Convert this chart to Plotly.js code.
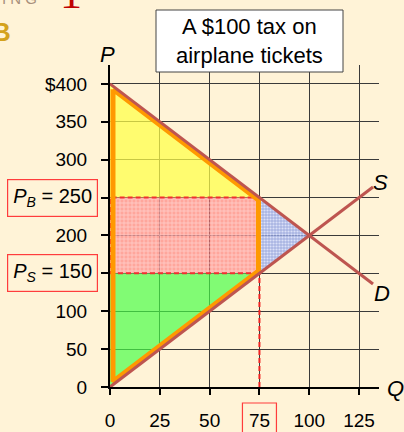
<!DOCTYPE html>
<html>
<head>
<meta charset="utf-8">
<script src="https://cdn.plot.ly/plotly-3.0.1.min.js"></script>
<style>html,body{margin:0;padding:0;background:#FFF3D7;}#chart{width:404px;height:432px;}</style>
</head>
<body>
<div id="chart"></div>
<script>
// ---- data ----
const qTicks = [0, 25, 50, 75, 100, 125];
const qTickText = ['0', '25', '50', '75', '100', '125'];
const pTicks = [0, 50, 100, 150, 200, 250, 300, 350, 400];
const pTickText = ['0', '50', '100', '', '200', '', '300', '350', '$400'];

const demandQ = [0, 132];
const demandP = [400, 136];
const supplyQ = [0, 132];
const supplyP = [0, 264];

const qTax = 75;      // quantity with tax
const pBuyers = 250;  // price buyers pay
const pSellers = 150; // price sellers receive
const qEq = 100;      // equilibrium quantity
const pEq = 200;      // equilibrium price
const pMax = 400;     // demand intercept

const csQ = [0, qTax, 0];            const csP = [pMax, pBuyers, pBuyers];
const psQ = [0, qTax, 0];            const psP = [0, pSellers, pSellers];
const trQ = [0, qTax, qTax, 0, 0];   const trP = [pSellers, pSellers, pBuyers, pBuyers, pSellers];
const dwlQ = [qTax, qEq, qTax];      const dwlP = [pBuyers, pEq, pSellers];

const titleText = 'A $100 tax on<br>airplane tickets';

// ---- layout geometry ----
const W = 404, H = 432;
const mL = 110, mR = 25, mT = 65, mB = 45;
const xMax = 135, yMax = 425;
const pw = W - mL - mR, ph = H - mT - mB;
const pxPerQ = pw / xMax, pxPerP = ph / yMax;
const px2q = px => px / pxPerQ;
const px2p = px => px / pxPerP;
const paperX = px => (px - mL) / pw;
const paperY = py => (H - mB - py) / ph;

// orange outline slightly inside the surplus+revenue region
const offL = px2q(3), offR = px2q(1);
const theta = Math.atan(2 * pxPerP / pxPerQ);
const offD = px2p(2.5 / Math.cos(theta));
const dP = q => pMax - 2 * q;
const sP = q => 2 * q;
const orQ = [offL, qTax - offR, qTax - offR, offL, offL];
const orP = [dP(offL) - offD, dP(qTax - offR) - offD, sP(qTax - offR) + offD, sP(offL) + offD, dP(offL) - offD];

const lineRed = '#BE5550';
const boxRed = '#FF3C3C';
const font = 'Liberation Sans, Arial, sans-serif';

const traces = [
  {x: csQ, y: csP, fill: 'toself', fillcolor: 'rgba(255,255,70,0.72)', line: {width: 0}, mode: 'lines', hoverinfo: 'skip'},
  {x: psQ, y: psP, fill: 'toself', fillcolor: 'rgba(70,255,70,0.68)', line: {width: 0}, mode: 'lines', hoverinfo: 'skip'},
  {x: trQ, y: trP, fill: 'toself', fillcolor: 'rgba(255,110,110,0.6)', mode: 'lines', hoverinfo: 'skip',
   fillpattern: {shape: '+', bgcolor: 'rgba(255,120,120,0.62)', fgcolor: 'rgba(255,215,215,0.8)', size: 4, solidity: 0.35, fillmode: 'replace'},
   line: {color: '#F03030', width: 2, dash: '5px,3px'}},
  {x: dwlQ, y: dwlP, fill: 'toself', fillcolor: 'rgba(140,160,230,0.7)', line: {width: 0}, mode: 'lines', hoverinfo: 'skip',
   fillpattern: {shape: '.', bgcolor: 'rgba(140,160,230,0.75)', fgcolor: 'rgba(225,230,250,0.9)', size: 3, solidity: 0.4, fillmode: 'replace'}},
  {x: [qTax, qTax], y: [0, pSellers], mode: 'lines', line: {color: '#F02020', width: 2, dash: '5px,3px'}, hoverinfo: 'skip'},
  {x: orQ, y: orP, mode: 'lines', line: {color: '#FF9900', width: 5}, hoverinfo: 'skip'},
  {x: demandQ, y: demandP, mode: 'lines', line: {color: lineRed, width: 3}, hoverinfo: 'skip'},
  {x: supplyQ, y: supplyP, mode: 'lines', line: {color: lineRed, width: 3}, hoverinfo: 'skip'}
];

const layout = {
  width: W, height: H,
  margin: {l: mL, r: mR, t: mT, b: mB, pad: 0},
  paper_bgcolor: '#FFF3D7', plot_bgcolor: '#FFF3D7',
  showlegend: false,
  font: {family: font, size: 19, color: '#000'},
  xaxis: {
    range: [0, xMax], tickvals: qTicks, ticktext: qTickText,
    showgrid: true, gridcolor: '#3A3A3A', gridwidth: 1,
    zeroline: false, showline: true, linecolor: '#000', linewidth: 2,
    ticks: 'outside', ticklen: 6, tickwidth: 2, tickcolor: '#000',
    ticklabelstandoff: 9, fixedrange: true
  },
  yaxis: {
    range: [0, yMax], tickvals: pTicks, ticktext: pTickText,
    showgrid: true, gridcolor: '#3A3A3A', gridwidth: 1,
    zeroline: false, showline: true, linecolor: '#000', linewidth: 2,
    ticks: 'outside', ticklen: 7, tickwidth: 2, tickcolor: '#000',
    ticklabelstandoff: 10, fixedrange: true
  },
  shapes: [
    {type: 'rect', xref: 'paper', yref: 'paper', x0: paperX(156), x1: paperX(343), y0: paperY(72), y1: paperY(10),
     fillcolor: '#FFFFFF', line: {color: '#444', width: 1}, layer: 'above'},
    {type: 'rect', xref: 'x', yref: 'paper', x0: qTax - px2q(17), x1: qTax + px2q(17), y0: paperY(440), y1: paperY(403),
     fillcolor: 'rgba(0,0,0,0)', line: {color: boxRed, width: 1.2}, layer: 'above'}
  ],
  annotations: [
    {xref: 'paper', yref: 'paper', x: paperX(249.5), y: paperY(41), text: titleText, showarrow: false,
     font: {size: 22, color: '#000'}, xanchor: 'center', yanchor: 'middle', align: 'center'},
    {xref: 'paper', yref: 'y', x: paperX(98), y: pBuyers, xanchor: 'right', yanchor: 'middle', showarrow: false,
     text: '<i>P</i><sub><i>B</i></sub> = 250', bordercolor: boxRed, borderwidth: 1.2, borderpad: 5,
     font: {size: 20, color: '#000'}},
    {xref: 'paper', yref: 'y', x: paperX(98), y: pSellers, xanchor: 'right', yanchor: 'middle', showarrow: false,
     text: '<i>P</i><sub><i>S</i></sub> = 150', bordercolor: boxRed, borderwidth: 1.2, borderpad: 5,
     font: {size: 20, color: '#000'}},
    {xref: 'paper', yref: 'paper', x: paperX(107), y: paperY(54), text: '<i>P</i>', showarrow: false,
     font: {size: 22}, xanchor: 'center', yanchor: 'middle'},
    {xref: 'paper', yref: 'paper', x: paperX(395), y: paperY(388), text: '<i>Q</i>', showarrow: false,
     font: {size: 22}, xanchor: 'center', yanchor: 'middle'},
    {xref: 'paper', yref: 'paper', x: paperX(380), y: paperY(182), text: '<i>S</i>', showarrow: false,
     font: {size: 22}, xanchor: 'center', yanchor: 'middle'},
    {xref: 'paper', yref: 'paper', x: paperX(382), y: paperY(293), text: '<i>D</i>', showarrow: false,
     font: {size: 22}, xanchor: 'center', yanchor: 'middle'},
    {xref: 'paper', yref: 'paper', x: paperX(0), y: paperY(-1), text: 'I N G', showarrow: false,
     font: {size: 15, color: '#A8907C'}, xanchor: 'left', yanchor: 'middle'},
    {xref: 'paper', yref: 'paper', x: paperX(13), y: paperY(32), text: '<b>B</b>', showarrow: false,
     font: {size: 26, color: '#D4A21C'}, xanchor: 'right', yanchor: 'middle'},
    {xref: 'paper', yref: 'paper', x: paperX(71), y: paperY(-6), text: '1', showarrow: false,
     font: {size: 44, color: '#C00000', family: 'Liberation Serif, Times New Roman, serif'}, xanchor: 'center', yanchor: 'middle'}
  ]
};

Plotly.newPlot('chart', traces, layout, {displayModeBar: false, staticPlot: true});
</script>
</body>
</html>
